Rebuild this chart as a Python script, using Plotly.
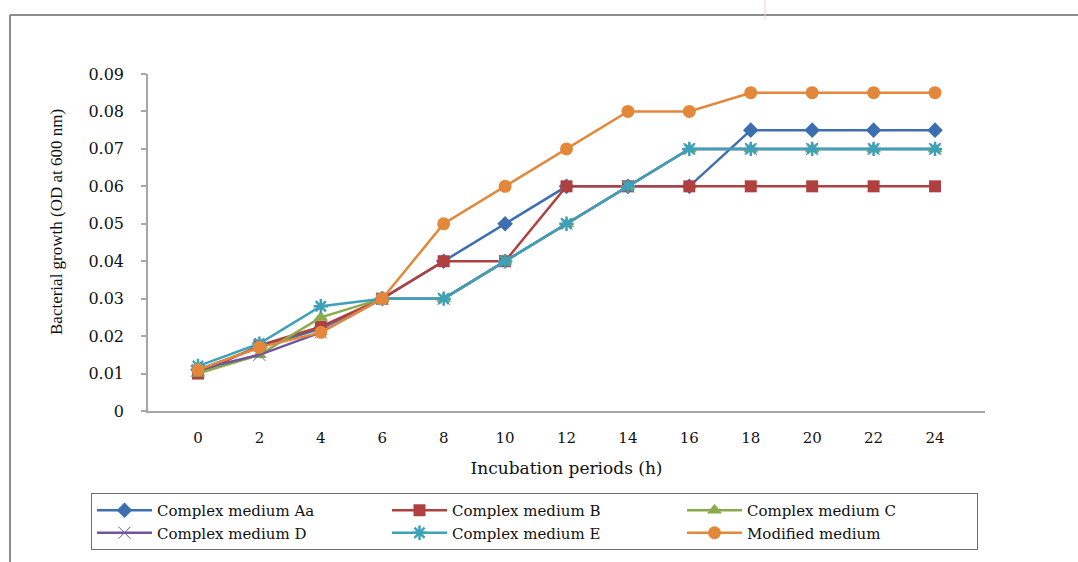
import plotly.graph_objects as go

hours = ["0", "2", "4", "6", "8", "10", "12", "14", "16", "18", "20", "22", "24"]
medium_aa = [0.011, 0.017, 0.022, 0.03, 0.04, 0.05, 0.06, 0.06, 0.06, 0.075, 0.075, 0.075, 0.075]
medium_b = [0.010, 0.0175, 0.0225, 0.03, 0.04, 0.04, 0.06, 0.06, 0.06, 0.06, 0.06, 0.06, 0.06]
medium_c = [0.010, 0.015, 0.025, 0.03, 0.03, 0.04, 0.05, 0.06, 0.07, 0.07, 0.07, 0.07, 0.07]
medium_d = [0.011, 0.015, 0.021, 0.03, 0.03, 0.04, 0.05, 0.06, 0.07, 0.07, 0.07, 0.07, 0.07]
medium_e = [0.012, 0.018, 0.028, 0.03, 0.03, 0.04, 0.05, 0.06, 0.07, 0.07, 0.07, 0.07, 0.07]
modified = [0.011, 0.017, 0.021, 0.03, 0.05, 0.06, 0.07, 0.08, 0.08, 0.085, 0.085, 0.085, 0.085]

series_names = ["Complex medium Aa", "Complex medium B", "Complex medium C",
                "Complex medium D", "Complex medium E", "Modified medium"]
y_tick_vals = [0, 0.01, 0.02, 0.03, 0.04, 0.05, 0.06, 0.07, 0.08, 0.09]
y_tick_text = ["0", "0.01", "0.02", "0.03", "0.04", "0.05", "0.06", "0.07", "0.08", "0.09"]

series = [medium_aa, medium_b, medium_c, medium_d, medium_e, modified]
colors = ["#3d6fb0", "#b0403f", "#8aab4b", "#71569b", "#3fa0ba", "#e3883a"]
symbols = ["diamond", "square", "triangle-up", "x-thin-open", "asterisk-open", "circle"]
sizes = [12, 12, 13, 12, 12, 13]

fig = go.Figure()
for name, vals, col, sym, sz in zip(series_names, series, colors, symbols, sizes):
    marker = dict(symbol=sym, size=sz, color=col)
    if sym.endswith("-open"):
        marker["line"] = dict(color=col, width=2.5 if sym.startswith("asterisk") else 1)
    fig.add_trace(go.Scatter(
        x=hours, y=vals, name=name, mode="lines+markers",
        line=dict(color=col, width=2.5), marker=marker,
    ))

L, R, T, B = 148, 93, 74, 151
W, H = 1078, 562
pw, ph = W - L - R, H - T - B

def px_x(p):
    return (p - L) / pw

def px_y(p):
    return (H - B - p) / ph

serif = "Liberation Serif"
wide = "DejaVu Serif"

fig.update_layout(
    width=W, height=H,
    margin=dict(l=L, r=R, t=T, b=B, autoexpand=False),
    paper_bgcolor="white", plot_bgcolor="white",
    showlegend=True,
    legend=dict(
        orientation="h", x=px_x(91), xanchor="left", y=px_y(493), yanchor="top",
        entrywidth=225, entrywidthmode="pixels", itemwidth=55,
        bordercolor="#6e6e6e", borderwidth=1, bgcolor="white",
        font=dict(family=wide, size=15, color="#111"),
        tracegroupgap=0,
    ),
    xaxis=dict(
        type="category", showline=True, linecolor="#a6a6a6", linewidth=1.5,
        ticks="", showgrid=False, zeroline=False, ticklabelstandoff=12,
        tickfont=dict(family=wide, size=15, color="#111"),
        title=dict(text="Incubation periods (h)", font=dict(family=wide, size=17, color="#111"), standoff=16),
    ),
    yaxis=dict(
        range=[0, 0.09], tickvals=y_tick_vals, ticktext=y_tick_text,
        showline=True, linecolor="#a6a6a6", linewidth=1.5,
        ticks="outside", ticklen=5, tickcolor="#a6a6a6", tickwidth=1.5,
        showgrid=False, zeroline=False, ticklabelstandoff=14,
        tickfont=dict(family=wide, size=16, color="#111"),
    ),
    annotations=[dict(
        text="Bacterial growth (OD at 600 nm)", textangle=-90,
        xref="paper", yref="paper", x=px_x(57), y=px_y(222),
        xanchor="center", yanchor="middle", showarrow=False,
        font=dict(family=serif, size=17, color="#111"),
    )],
    shapes=[
        dict(type="line", xref="paper", yref="paper", x0=px_x(10), x1=px_x(10),
             y0=px_y(15), y1=px_y(H), line=dict(color="#8c8c8c", width=2)),
        dict(type="line", xref="paper", yref="paper", x0=px_x(10), x1=px_x(W),
             y0=px_y(15), y1=px_y(15), line=dict(color="#8c8c8c", width=2)),
        dict(type="line", xref="paper", yref="paper", x0=px_x(765), x1=px_x(765),
             y0=px_y(0), y1=px_y(20), line=dict(color="#f6c9c9", width=1)),
    ],
)

fig.write_html("out.html")
